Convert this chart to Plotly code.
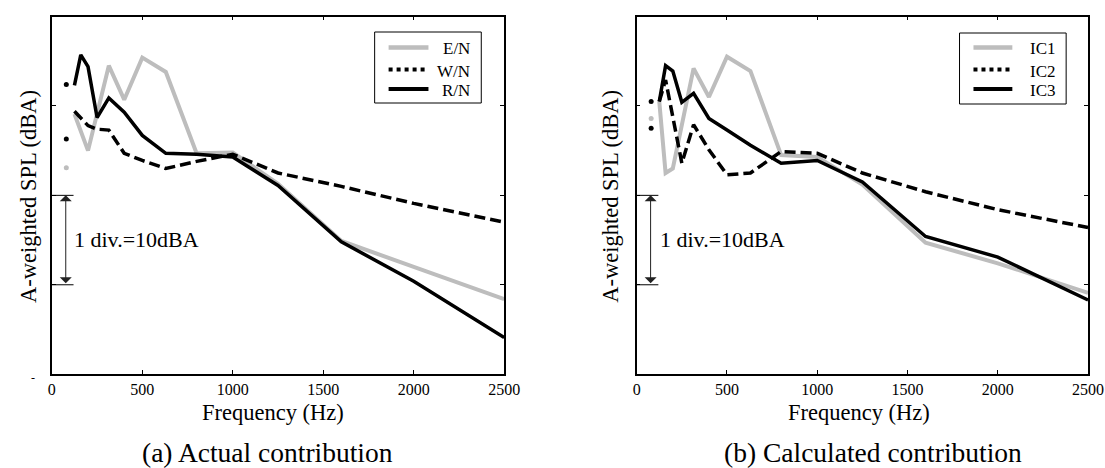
import plotly.graph_objects as go

W, H = 1105, 468          # target picture size
FIG_W = 1121              # page width (capture is scaled to 1105 horizontally)

# ---------------- data (relative A-weighted SPL, 1 div = 10 dBA) ----------------
FREQ = [80, 125, 160, 200, 250, 315, 400, 500, 630, 800, 1000, 1250, 1600, 2000, 2500]
X_TICKS = [0, 500, 1000, 1500, 2000, 2500]

# (a) Actual contribution
EN = [23.1, 29.1, None, 25.0, None, 34.5, 30.7, 35.4, 33.8, 24.7, 24.8, 21.3, 14.9, 12.0, 8.4]
WN = [26.3, 29.4, None, 27.8, 27.4, 27.3, 24.7, 23.9, 23.0, 23.8, 24.6, 22.5, 21.0, 19.1, 17.0]
RN = [32.4, 32.3, 35.7, 34.4, 28.7, 30.9, 29.3, 26.7, 24.7, 24.6, 24.3, 21.1, 14.8, 10.4, 4.1]

# (b) Calculated contribution
IC1 = [28.6, 30.5, 22.5, 23.0, None, 34.2, 31.0, 35.5, 33.9, 24.5, 24.3, 21.2, 14.7, 12.4, 9.1]
IC2 = [27.5, 30.5, 32.9, None, 23.6, 27.9, 25.1, 22.3, 22.5, 24.9, 24.7, 22.5, 20.4, 18.4, 16.4]
IC3 = [30.5, 30.5, 34.5, 33.9, 30.4, 31.4, 28.6, 27.3, 25.6, 23.6, 23.9, 21.5, 15.4, 13.1, 8.3]

NAMES_A = ["E/N", "W/N", "R/N"]
NAMES_B = ["IC1", "IC2", "IC3"]

GRAY = "#bdbdbd"
BLACK = "#000000"
FONT = "Liberation Serif"

STYLES = [
    dict(color=GRAY, width=4, dash="solid"),
    dict(color=BLACK, width=3.5, dash="11px,5px"),
    dict(color=BLACK, width=3.5, dash="solid"),
]
LEG_DASH = ["solid", "4px,4px", "solid"]


def px(x):
    return x / W


def py(y):
    return 1 - y / H


fig = go.Figure()

panels = [
    ("x", "y", [EN, WN, RN]),
    ("x2", "y2", [IC1, IC2, IC3]),
]
for xa, ya, series in panels:
    for vals, st in zip(series, STYLES):
        # lowest band shown as an isolated dot
        fig.add_trace(go.Scatter(
            x=FREQ[:1], y=vals[:1], mode="markers", xaxis=xa, yaxis=ya,
            marker=dict(color=st["color"], size=5), showlegend=False, hoverinfo="skip"))
        fig.add_trace(go.Scatter(
            x=FREQ[1:], y=vals[1:], mode="lines", xaxis=xa, yaxis=ya,
            connectgaps=True, line=st, showlegend=False, hoverinfo="skip"))

axis_common = dict(
    showline=True, linecolor="black", linewidth=1.5, mirror="ticks",
    ticks="inside", ticklen=4, tickwidth=1, tickcolor="black",
    showgrid=False, zeroline=False,
)
xdom_a = [px(48), px(502)]
xdom_b = [px(635), px(1088)]
ydom = [py(374.2), py(16.5)]

fig.update_layout(
    width=FIG_W, height=H,
    margin=dict(l=0, r=0, t=0, b=0),
    paper_bgcolor="white", plot_bgcolor="white",
    showlegend=False,
    xaxis=dict(domain=xdom_a, range=[0, 2500], tickvals=X_TICKS, anchor="y",
               tickfont=dict(family=FONT, size=16, color="black"), **axis_common),
    yaxis=dict(domain=ydom, range=[0, 40], dtick=10, showticklabels=False, anchor="x",
               **axis_common),
    xaxis2=dict(domain=xdom_b, range=[0, 2500], tickvals=X_TICKS, anchor="y2",
                tickfont=dict(family=FONT, size=16, color="black"), **axis_common),
    yaxis2=dict(domain=ydom, range=[0, 40], dtick=10, showticklabels=False, anchor="x2",
                **axis_common),
)

annotations = []
shapes = []


def text(x, y, s, size, xanchor="center", yanchor="middle", angle=0):
    annotations.append(dict(
        x=px(x), y=py(y), xref="paper", yref="paper", text=s, showarrow=False,
        xanchor=xanchor, yanchor=yanchor, textangle=angle, borderpad=0,
        font=dict(family=FONT, size=size, color="black")))


# axis titles and captions
text(270, 412, "Frequency (Hz)", 22.5)
text(858, 412, "Frequency (Hz)", 22.5)
text(24, 196, "A-weighted SPL (dBA)", 22.5, angle=-90)
text(608, 196, "A-weighted SPL (dBA)", 22.5, angle=-90)
text(264, 452.5, "(a) Actual contribution", 27.5)
text(872, 452.5, "(b) Calculated contribution", 27.5)
text(29, 378, "-", 12)

# "1 div. = 10 dBA" marker on each panel (between the 10 and 20 ticks)
for xa, ya, tx in [("x", "y", 69), ("x2", "y2", 657)]:
    for yv in (10, 20):
        shapes.append(dict(type="line", xref=xa, yref=ya, x0=0, x1=120, y0=yv, y1=yv,
                           line=dict(color="black", width=1)))
    annotations.append(dict(
        x=77, y=20, xref=xa, yref=ya, ax=77, ay=10, axref=xa, ayref=ya,
        text="", showarrow=True, arrowside="end+start", arrowhead=1, startarrowhead=1,
        arrowsize=2, startarrowsize=2, arrowwidth=1, arrowcolor="#222",
        standoff=0, startstandoff=0))
    text(tx, 240, "1 div.=10dBA", 22, xanchor="left")

# custom legends
legends = [
    (372, 479, 32, 103, 386, 426, NAMES_A, 469, "right"),
    (959, 1066, 33, 104, 973, 1012, NAMES_B, 1029, "left"),
]
rows = [47.5, 69.5, 89]
for x0, x1, y0, y1, lx0, lx1, names, tx, anchor in legends:
    shapes.append(dict(type="rect", xref="paper", yref="paper",
                       x0=px(x0), x1=px(x1), y0=py(y1), y1=py(y0),
                       line=dict(color="black", width=1), fillcolor="white", layer="above"))
    for r, nm, st, dsh in zip(rows, names, STYLES, LEG_DASH):
        shapes.append(dict(type="line", xref="paper", yref="paper",
                           x0=px(lx0), x1=px(lx1), y0=py(r), y1=py(r), layer="above",
                           line=dict(color=st["color"], width=st["width"] + 0.5, dash=dsh)))
        text(tx, r + 1.5, nm, 17, xanchor=anchor)

fig.update_layout(annotations=annotations, shapes=shapes)
fig.write_html(
    "out.html",
    config={"displayModeBar": False},
    post_script="document.body.style.margin='0';document.body.style.overflow='hidden';",
)
